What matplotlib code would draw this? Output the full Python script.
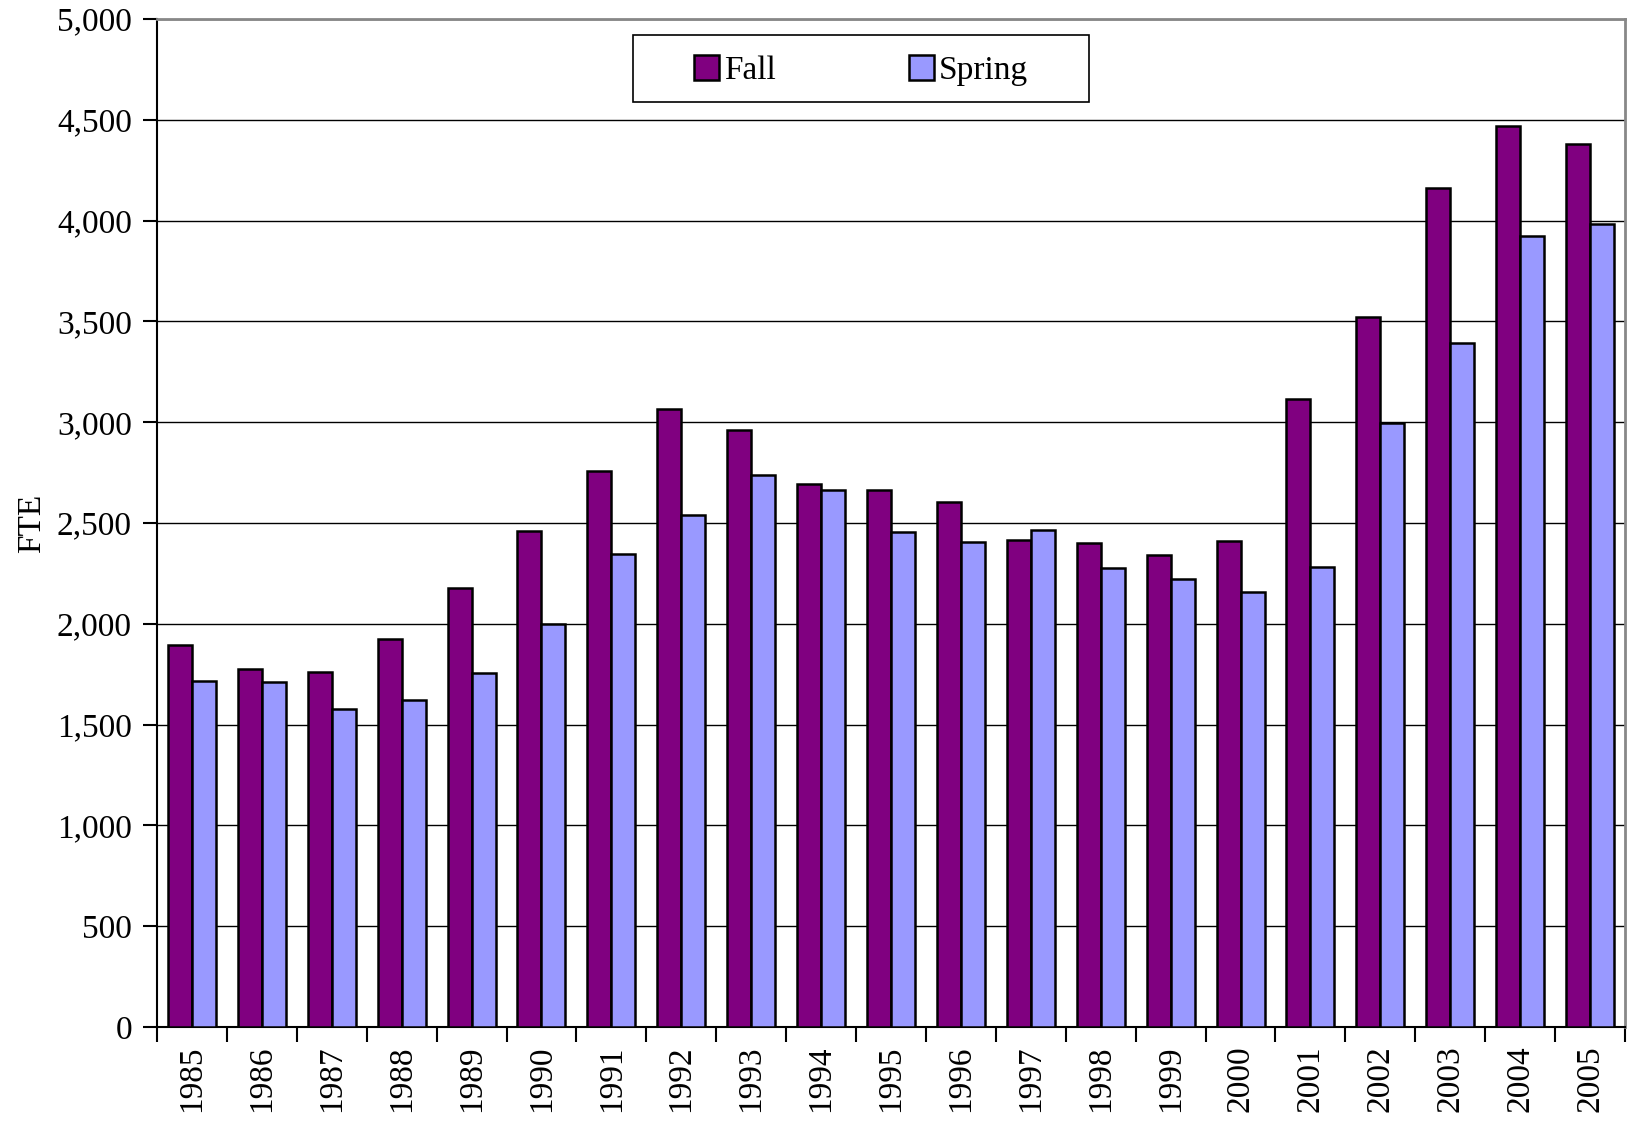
import matplotlib
matplotlib.use("Agg")
import matplotlib.pyplot as plt
import numpy as np
from matplotlib.ticker import MultipleLocator, FuncFormatter, FixedLocator
from matplotlib.patches import Rectangle

years = ["1985", "1986", "1987", "1988", "1989", "1990", "1991", "1992", "1993", "1994",
         "1995", "1996", "1997", "1998", "1999", "2000", "2001", "2002", "2003", "2004", "2005"]
fall = [1895, 1775, 1760, 1925, 2180, 2458, 2760, 3066, 2960, 2692,
        2665, 2603, 2418, 2400, 2340, 2413, 3117, 3522, 4162, 4469, 4380]
spring = [1716, 1712, 1577, 1620, 1754, 2000, 2345, 2540, 2736, 2665,
          2453, 2405, 2465, 2279, 2220, 2160, 2280, 2994, 3394, 3925, 3985]

plt.rcParams['font.family'] = ['Liberation Serif', 'DejaVu Serif']

fig = plt.figure(figsize=(16.27, 11.21), dpi=100)
ax = fig.add_axes([157/1627, 1 - 1027/1121, (1625-157)/1627, (1027-19)/1121])

x = np.arange(len(years))
w = 0.343
ax.bar(x - w/2, fall, w, color='#800080', edgecolor='black', linewidth=1.8, label='Fall', zorder=3)
ax.bar(x + w/2, spring, w, color='#9999FF', edgecolor='black', linewidth=1.8, label='Spring', zorder=3)

ax.set_xlim(-0.5, len(years) - 0.5)
ax.set_ylim(0, 5000)
ax.yaxis.set_major_locator(MultipleLocator(500))
ax.yaxis.set_major_formatter(FuncFormatter(lambda v, p: f"{int(v):,}"))
ax.grid(axis='y', color='black', linewidth=1.0, zorder=0)

ax.set_xticks(x)
ax.set_xticklabels(years, rotation=90, fontsize=24)
ax.tick_params(axis='x', which='major', length=0, pad=13)
ax.xaxis.set_minor_locator(FixedLocator(np.arange(-0.5, len(years), 1.0)))
ax.tick_params(axis='x', which='minor', length=11, width=1.5, color='black', direction='out')
ax.tick_params(axis='y', length=10, width=1.5, direction='out', labelsize=24, pad=8)

ax.set_ylabel('FTE', fontsize=24, labelpad=7)

for s in ['left', 'bottom']:
    ax.spines[s].set_color('black')
    ax.spines[s].set_linewidth(1.5)
for s in ['top', 'right']:
    ax.spines[s].set_color('#888888')
    ax.spines[s].set_linewidth(2.0)

# legend frame
x0, x1 = (633-157)/1468, (1089-157)/1468
y0, y1 = (1027-102)/1008, (1027-35)/1008
ax.add_patch(Rectangle((x0, y0), x1 - x0, y1 - y0, transform=ax.transAxes,
                       facecolor='white', edgecolor='black', linewidth=1.2, zorder=4))

leg = ax.legend(loc='center', bbox_to_anchor=((x0 + x1)/2, (y0 + y1)/2 - 0.002), ncol=2, fontsize=24,
                frameon=False, handlelength=0.75, handleheight=0.75, handletextpad=0.15,
                columnspacing=4.0, borderpad=0.3)
leg.set_zorder(5)

fig.savefig('out.png', dpi=100, facecolor='white')
